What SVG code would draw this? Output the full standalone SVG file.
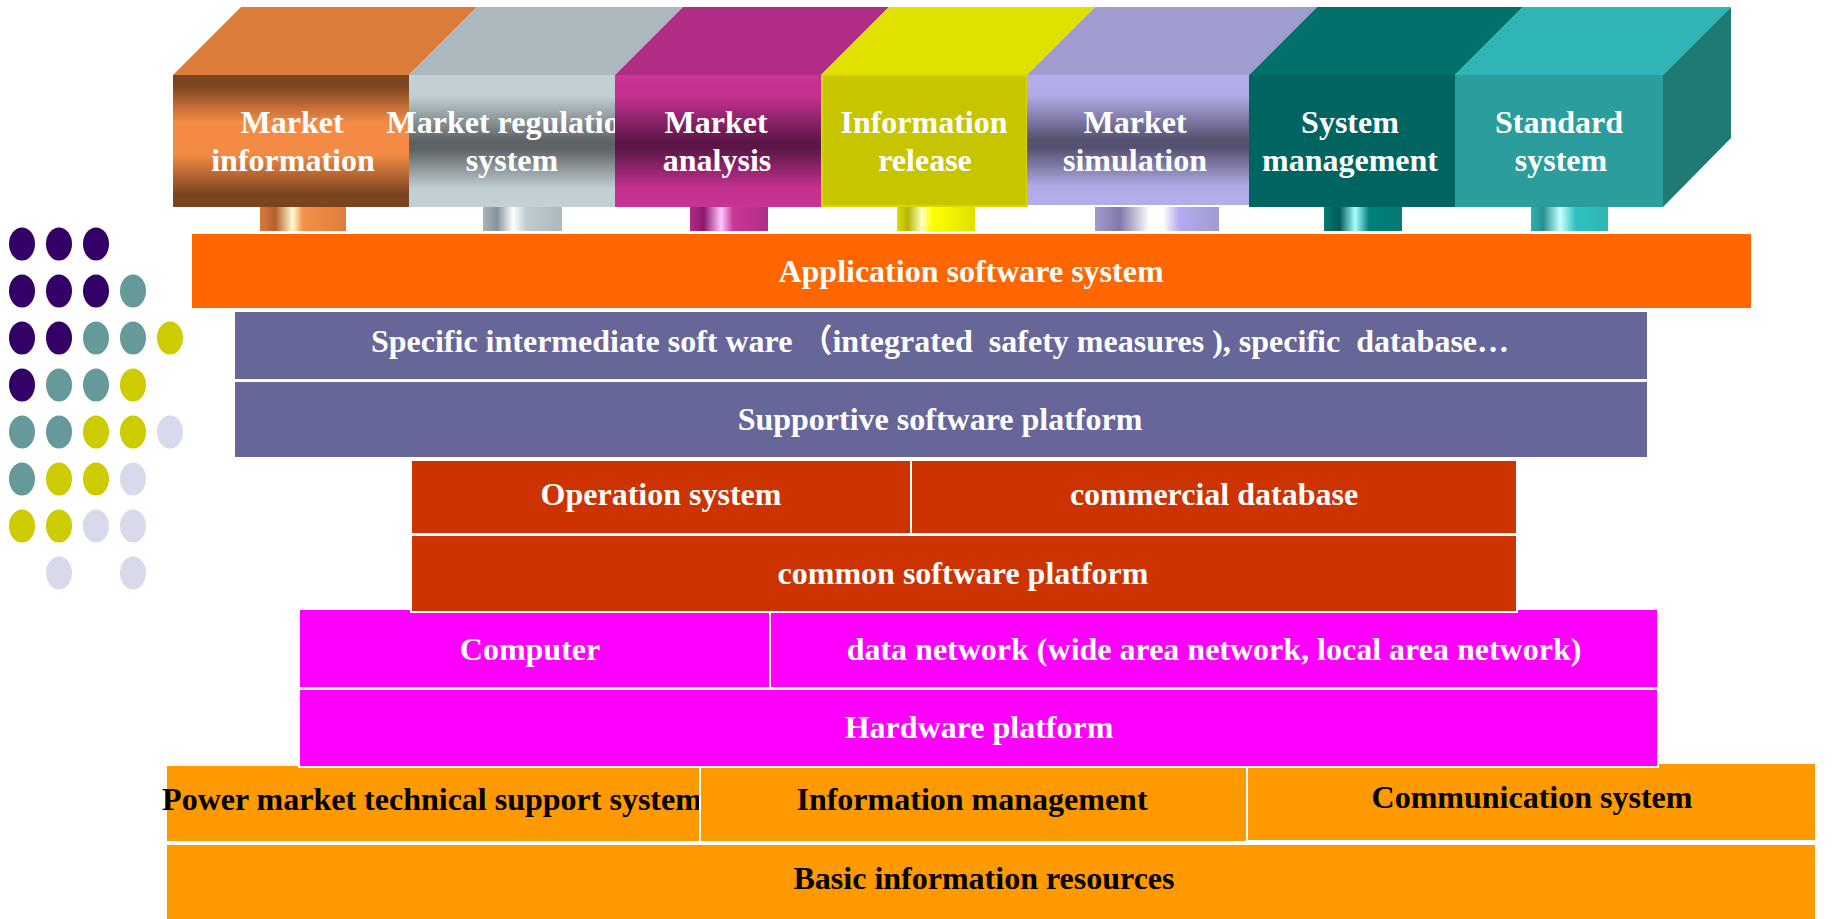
<svg xmlns="http://www.w3.org/2000/svg" width="1835" height="919" viewBox="0 0 1835 919">
  <style>
    .lbl { font-family: "Liberation Serif", "Noto Sans CJK SC", serif; font-weight: bold; font-size: 32px; text-anchor: middle; fill: #ffffff; }
    .dark { fill: #000000; }
    .cell { stroke: #ffffff; stroke-width: 2; }
    .app { fill: #ff6600; }
    .mid { fill: #666699; }
    .os { fill: #cc3300; }
    .hw { fill: #ff00ff; }
    .base { fill: #ff9900; }
    .dP { fill: #330066; }
    .dT { fill: #669999; }
    .dY { fill: #cccc00; }
    .dL { fill: #d9d9ec; }
  </style>
  <defs>
    <!-- front faces: vertical metallic bands -->
    <linearGradient id="fOrange" x1="0" y1="0" x2="0" y2="1">
      <stop offset="0" stop-color="#7a4420"/>
      <stop offset="0.08" stop-color="#7c4521"/>
      <stop offset="0.36" stop-color="#f48b45"/>
      <stop offset="0.6" stop-color="#f48b45"/>
      <stop offset="0.9" stop-color="#7c4521"/>
      <stop offset="1" stop-color="#7a4420"/>
    </linearGradient>
    <linearGradient id="fGray" x1="0" y1="0" x2="0" y2="1">
      <stop offset="0" stop-color="#c3d0d5"/>
      <stop offset="0.16" stop-color="#c1ced3"/>
      <stop offset="0.5" stop-color="#5d6365"/>
      <stop offset="0.56" stop-color="#5d6365"/>
      <stop offset="0.86" stop-color="#c1ced3"/>
      <stop offset="1" stop-color="#c3d0d5"/>
    </linearGradient>
    <linearGradient id="fMagenta" x1="0" y1="0" x2="0" y2="1">
      <stop offset="0" stop-color="#c93393"/>
      <stop offset="0.16" stop-color="#c53191"/>
      <stop offset="0.5" stop-color="#5c1748"/>
      <stop offset="0.56" stop-color="#5c1748"/>
      <stop offset="0.86" stop-color="#c53191"/>
      <stop offset="1" stop-color="#c93393"/>
    </linearGradient>
    <linearGradient id="fLavender" x1="0" y1="0" x2="0" y2="1">
      <stop offset="0" stop-color="#b3aeea"/>
      <stop offset="0.16" stop-color="#b0abe6"/>
      <stop offset="0.5" stop-color="#555170"/>
      <stop offset="0.56" stop-color="#555170"/>
      <stop offset="0.86" stop-color="#b0abe6"/>
      <stop offset="1" stop-color="#b3aeea"/>
    </linearGradient>
    <!-- stems: horizontal cylinder shading -->
    <linearGradient id="sOrange" x1="0" y1="0" x2="1" y2="0">
      <stop offset="0" stop-color="#d87a3a"/>
      <stop offset="0.18" stop-color="#b4612c"/>
      <stop offset="0.38" stop-color="#fffbd0"/>
      <stop offset="0.5" stop-color="#f59048"/>
      <stop offset="1" stop-color="#df7c3c"/>
    </linearGradient>
    <linearGradient id="sGray" x1="0" y1="0" x2="1" y2="0">
      <stop offset="0" stop-color="#a9b5ba"/>
      <stop offset="0.18" stop-color="#87939a"/>
      <stop offset="0.38" stop-color="#ffffff"/>
      <stop offset="0.55" stop-color="#c0ccd0"/>
      <stop offset="1" stop-color="#abb8bd"/>
    </linearGradient>
    <linearGradient id="sMagenta" x1="0" y1="0" x2="1" y2="0">
      <stop offset="0" stop-color="#b02d85"/>
      <stop offset="0.18" stop-color="#8e1a6c"/>
      <stop offset="0.4" stop-color="#ffc8ff"/>
      <stop offset="0.55" stop-color="#c83896"/>
      <stop offset="1" stop-color="#b02d85"/>
    </linearGradient>
    <linearGradient id="sYellow" x1="0" y1="0" x2="1" y2="0">
      <stop offset="0" stop-color="#dcdc00"/>
      <stop offset="0.14" stop-color="#b5b500"/>
      <stop offset="0.32" stop-color="#ffffc4"/>
      <stop offset="0.45" stop-color="#ffff00"/>
      <stop offset="1" stop-color="#e0e000"/>
    </linearGradient>
    <linearGradient id="sLavender" x1="0" y1="0" x2="1" y2="0">
      <stop offset="0" stop-color="#a09cd0"/>
      <stop offset="0.2" stop-color="#8078aa"/>
      <stop offset="0.44" stop-color="#ffffff"/>
      <stop offset="0.55" stop-color="#ffffff"/>
      <stop offset="0.68" stop-color="#b2aaf0"/>
      <stop offset="1" stop-color="#a09cd0"/>
    </linearGradient>
    <linearGradient id="sTeal" x1="0" y1="0" x2="1" y2="0">
      <stop offset="0" stop-color="#0a7a72"/>
      <stop offset="0.2" stop-color="#005a55"/>
      <stop offset="0.4" stop-color="#a8ffff"/>
      <stop offset="0.58" stop-color="#008078"/>
      <stop offset="1" stop-color="#037a72"/>
    </linearGradient>
    <linearGradient id="sCyan" x1="0" y1="0" x2="1" y2="0">
      <stop offset="0" stop-color="#2fb0b0"/>
      <stop offset="0.16" stop-color="#28908f"/>
      <stop offset="0.38" stop-color="#c8ffff"/>
      <stop offset="0.58" stop-color="#30c0c0"/>
      <stop offset="1" stop-color="#2fb5b5"/>
    </linearGradient>
  </defs>

  <rect width="1835" height="919" fill="#ffffff"/>

  <!-- decorative dot grid -->
  <g id="dots">
    <ellipse class="dP" cx="22" cy="244" rx="13" ry="16.5"/>
    <ellipse class="dP" cx="59" cy="244" rx="13" ry="16.5"/>
    <ellipse class="dP" cx="96" cy="244" rx="13" ry="16.5"/>

    <ellipse class="dP" cx="22" cy="291" rx="13" ry="16.5"/>
    <ellipse class="dP" cx="59" cy="291" rx="13" ry="16.5"/>
    <ellipse class="dP" cx="96" cy="291" rx="13" ry="16.5"/>
    <ellipse class="dT" cx="133" cy="291" rx="13" ry="16.5"/>

    <ellipse class="dP" cx="22" cy="338" rx="13" ry="16.5"/>
    <ellipse class="dP" cx="59" cy="338" rx="13" ry="16.5"/>
    <ellipse class="dT" cx="96" cy="338" rx="13" ry="16.5"/>
    <ellipse class="dT" cx="133" cy="338" rx="13" ry="16.5"/>
    <ellipse class="dY" cx="170" cy="338" rx="13" ry="16.5"/>

    <ellipse class="dP" cx="22" cy="385" rx="13" ry="16.5"/>
    <ellipse class="dT" cx="59" cy="385" rx="13" ry="16.5"/>
    <ellipse class="dT" cx="96" cy="385" rx="13" ry="16.5"/>
    <ellipse class="dY" cx="133" cy="385" rx="13" ry="16.5"/>

    <ellipse class="dT" cx="22" cy="432" rx="13" ry="16.5"/>
    <ellipse class="dT" cx="59" cy="432" rx="13" ry="16.5"/>
    <ellipse class="dY" cx="96" cy="432" rx="13" ry="16.5"/>
    <ellipse class="dY" cx="133" cy="432" rx="13" ry="16.5"/>
    <ellipse class="dL" cx="170" cy="432" rx="13" ry="16.5"/>

    <ellipse class="dT" cx="22" cy="479" rx="13" ry="16.5"/>
    <ellipse class="dY" cx="59" cy="479" rx="13" ry="16.5"/>
    <ellipse class="dY" cx="96" cy="479" rx="13" ry="16.5"/>
    <ellipse class="dL" cx="133" cy="479" rx="13" ry="16.5"/>

    <ellipse class="dY" cx="22" cy="526" rx="13" ry="16.5"/>
    <ellipse class="dY" cx="59" cy="526" rx="13" ry="16.5"/>
    <ellipse class="dL" cx="96" cy="526" rx="13" ry="16.5"/>
    <ellipse class="dL" cx="133" cy="526" rx="13" ry="16.5"/>

    <ellipse class="dL" cx="59" cy="573" rx="13" ry="16.5"/>
    <ellipse class="dL" cx="133" cy="573" rx="13" ry="16.5"/>
  </g>

  <!-- bottom layer: information resources -->
  <g id="basic-layer">
    <rect class="base cell" x="166" y="844" width="1650" height="76"/>
    <text class="lbl dark" x="984" y="889">Basic information resources</text>
  </g>
  <g id="power-market">
    <rect class="base cell" x="166" y="765" width="534" height="77"/>
    <text class="lbl dark" x="432" y="810">Power market technical support system</text>
  </g>
  <g id="info-management">
    <rect class="base cell" x="700" y="767" width="547" height="75"/>
    <text class="lbl dark" x="972" y="810">Information management</text>
  </g>
  <g id="communication">
    <rect class="base cell" x="1247" y="763" width="569" height="78"/>
    <text class="lbl dark" x="1532" y="808">Communication system</text>
  </g>

  <!-- hardware platform -->
  <g id="hardware">
    <rect class="hw cell" x="299" y="689" width="1359" height="78"/>
    <text class="lbl" x="979" y="738">Hardware platform</text>
  </g>
  <g id="computer">
    <rect class="hw cell" x="299" y="609" width="471" height="79"/>
    <text class="lbl" x="530" y="660">Computer</text>
  </g>
  <g id="data-network">
    <rect class="hw cell" x="770" y="609" width="888" height="79"/>
    <text class="lbl" x="1214" y="660">data network (wide area network, local area network)</text>
  </g>

  <!-- common software platform -->
  <g id="common-software">
    <rect class="os cell" x="411" y="535" width="1106" height="77"/>
    <text class="lbl" x="963" y="584">common software platform</text>
  </g>
  <g id="operation-system">
    <rect class="os cell" x="411" y="460" width="500" height="74"/>
    <text class="lbl" x="661" y="505">Operation system</text>
  </g>
  <g id="commercial-db">
    <rect class="os cell" x="911" y="460" width="606" height="74"/>
    <text class="lbl" x="1214" y="505">commercial database</text>
  </g>

  <!-- supportive software platform -->
  <g id="supportive">
    <rect class="mid cell" x="234" y="381" width="1414" height="77"/>
    <text class="lbl" x="940" y="430">Supportive software platform</text>
  </g>
  <g id="intermediate">
    <rect class="mid cell" x="234" y="311" width="1414" height="69"/>
    <text class="lbl" x="940" y="352" xml:space="preserve">Specific intermediate soft ware （integrated  safety measures ), specific  database…</text>
  </g>

  <!-- application software layer -->
  <g id="application">
    <rect class="app cell" x="191" y="233" width="1561" height="76"/>
    <text class="lbl" x="971" y="282">Application software system</text>
  </g>

  <!-- application modules: extruded blocks on stems -->
  <g id="market-information">
    <rect x="260" y="207" width="86" height="24" fill="url(#sOrange)"/>
    <polygon points="173,75 241,7 477,7 409,75" fill="#dc7c3b"/>
    <rect x="173" y="75" width="236" height="132" fill="url(#fOrange)"/>
    <text class="lbl" x="292" y="133">Market</text>
    <text class="lbl" x="293" y="171">information</text>
  </g>
  <g id="market-regulation">
    <rect x="483" y="207" width="79" height="24" fill="url(#sGray)"/>
    <polygon points="409,75 477,7 683,7 615,75" fill="#abb8bd"/>
    <rect x="409" y="75" width="206" height="132" fill="url(#fGray)"/>
    <text class="lbl" x="512" y="133">Market regulation</text>
    <text class="lbl" x="512" y="171">system</text>
  </g>
  <g id="market-analysis">
    <rect x="690" y="207" width="78" height="24" fill="url(#sMagenta)"/>
    <polygon points="615,75 683,7 889,7 821,75" fill="#b02d85"/>
    <rect x="615" y="75" width="206" height="132" fill="url(#fMagenta)"/>
    <text class="lbl" x="716" y="133">Market</text>
    <text class="lbl" x="717" y="171">analysis</text>
  </g>
  <g id="information-release">
    <rect x="897" y="207" width="78" height="24" fill="url(#sYellow)"/>
    <polygon points="821,75 889,7 1095,7 1027,75" fill="#e1e100"/>
    <rect x="822" y="75" width="205" height="131" fill="#c7c400" stroke="#d9d600" stroke-width="2"/>
    <text class="lbl" x="924" y="133">Information</text>
    <text class="lbl" x="925" y="171">release</text>
  </g>
  <g id="market-simulation">
    <rect x="1095" y="207" width="124" height="24" fill="url(#sLavender)"/>
    <polygon points="1027,75 1095,7 1317,7 1249,75" fill="#a09cd0"/>
    <rect x="1027" y="75" width="222" height="130" fill="url(#fLavender)"/>
    <text class="lbl" x="1135" y="133">Market</text>
    <text class="lbl" x="1135" y="171">simulation</text>
  </g>
  <g id="system-management">
    <rect x="1324" y="207" width="78" height="24" fill="url(#sTeal)"/>
    <polygon points="1249,75 1317,7 1523,7 1455,75" fill="#02716c"/>
    <rect x="1249" y="75" width="206" height="132" fill="#006460"/>
    <text class="lbl" x="1350" y="133">System</text>
    <text class="lbl" x="1350" y="171">management</text>
  </g>
  <g id="standard-system">
    <rect x="1531" y="207" width="77" height="24" fill="url(#sCyan)"/>
    <polygon points="1455,75 1523,7 1731,7 1663,75" fill="#2fb5b5"/>
    <polygon points="1663,75 1731,7 1731,138 1663,207" fill="#1f7a74"/>
    <rect x="1455" y="75" width="208" height="132" fill="#2a9d9c"/>
    <text class="lbl" x="1559" y="133">Standard</text>
    <text class="lbl" x="1561" y="171">system</text>
  </g>
</svg>
